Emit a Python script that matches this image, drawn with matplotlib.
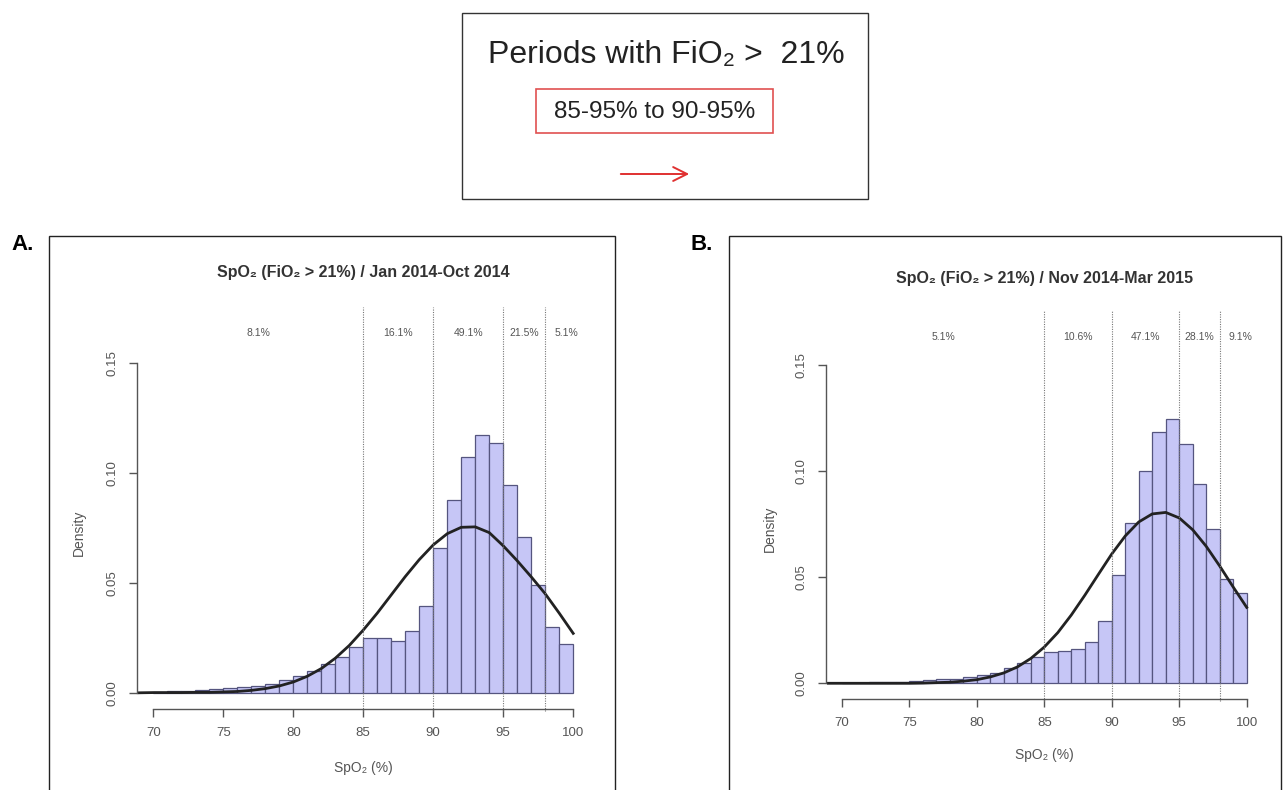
import matplotlib
matplotlib.use("Agg")
import matplotlib.pyplot as plt
import matplotlib.transforms as mtransforms
from matplotlib.patches import Rectangle, FancyArrowPatch

plt.rcParams['font.family'] = ['Liberation Sans', 'DejaVu Sans']

# histogram bins: left edges, width 1
bin_left = list(range(70, 100))

# panel A: Jan 2014 - Oct 2014
dens_a = [0.0005, 0.0007, 0.0009, 0.0011, 0.0015, 0.0020, 0.0026, 0.0031, 0.0040, 0.0058,
          0.0075, 0.0098, 0.0130, 0.0163, 0.0207, 0.0250, 0.0250, 0.0236, 0.0279, 0.0395,
          0.0656, 0.0877, 0.1070, 0.1171, 0.1134, 0.0946, 0.0709, 0.0490, 0.0300, 0.0224]
# panel B: Nov 2014 - Mar 2015
dens_b = [0.0001, 0.0002, 0.0004, 0.0006, 0.0008, 0.0011, 0.0014, 0.0018, 0.0022, 0.0028,
          0.0037, 0.0048, 0.0071, 0.0097, 0.0122, 0.0149, 0.0151, 0.0161, 0.0195, 0.0293,
          0.0513, 0.0755, 0.1003, 0.1184, 0.1245, 0.1130, 0.0940, 0.0728, 0.0492, 0.0425]

# fitted density curves read at integer SpO2 values (69..100)
curve_x = list(range(69, 101))
curve_a = [0.0000, 0.0001, 0.0001, 0.0001, 0.0002, 0.0002, 0.0004, 0.0006, 0.0011, 0.0019,
           0.0031, 0.0049, 0.0075, 0.0110, 0.0157, 0.0215, 0.0285, 0.0362, 0.0445, 0.0528,
           0.0605, 0.0672, 0.0723, 0.0752, 0.0754, 0.0728, 0.0668, 0.0600, 0.0527, 0.0450,
           0.0362, 0.0270]
curve_b = [0.0000, 0.0000, 0.0000, 0.0000, 0.0000, 0.0000, 0.0000, 0.0001, 0.0003, 0.0005,
           0.0010, 0.0017, 0.0030, 0.0049, 0.0077, 0.0117, 0.0171, 0.0239, 0.0322, 0.0415,
           0.0513, 0.0610, 0.0695, 0.0761, 0.0799, 0.0806, 0.0780, 0.0724, 0.0646, 0.0553,
           0.0454, 0.0358]

cut_points = [85, 90, 95, 98]
label_pos = [77.5, 87.5, 92.5, 96.5, 99.5]
pct_a = ['8.1%', '16.1%', '49.1%', '21.5%', '5.1%']
pct_b = ['5.1%', '10.6%', '47.1%', '28.1%', '9.1%']

title_a = 'SpO\u2082 (FiO\u2082 > 21%) / Jan 2014-Oct 2014'
title_b = 'SpO\u2082 (FiO\u2082 > 21%) / Nov 2014-Mar 2015'

W, H = 1283, 790
fig = plt.figure(figsize=(W / 100, H / 100), dpi=100)


def px_rect(x0, y0, x1, y1, **kw):
    # rectangle given in pixel coords (origin top-left)
    r = Rectangle((x0 / W, 1 - y1 / H), (x1 - x0) / W, (y1 - y0) / H,
                  transform=fig.transFigure, fill=False, clip_on=False, **kw)
    fig.add_artist(r)


# header box
px_rect(462, 13, 868, 199, lw=1.0, edgecolor='#333333')
fig.text(666 / W, 1 - 55 / H, 'Periods with FiO\u2082 >  21%', ha='center', va='center',
         fontsize=23, color='#222222')
px_rect(536, 89, 773, 133, lw=1.2, edgecolor='#e05050')
fig.text(655 / W, 1 - 112 / H, '85-95% to 90-95%', ha='center', va='center',
         fontsize=17.5, color='#222222')
arr = FancyArrowPatch((618 / W, 1 - 174 / H), (692 / W, 1 - 174 / H),
                      transform=fig.transFigure, arrowstyle='->,head_length=10,head_width=5',
                      color='#e03030', lw=1.4, mutation_scale=1)
fig.add_artist(arr)

# panel frames
px_rect(49, 236, 615, 800, lw=1.0, edgecolor='#222222')
px_rect(729, 236, 1281, 800, lw=1.0, edgecolor='#222222')
fig.text(11 / W, 1 - 245 / H, 'A.', ha='left', va='center', fontsize=16, fontweight='bold')
fig.text(691 / W, 1 - 245 / H, 'B.', ha='left', va='center', fontsize=16, fontweight='bold')

panels = [
    (dens_a, curve_a, pct_a, title_a, (136.5, 349.5, 590, 706), 79, 768),
    (dens_b, curve_b, pct_b, title_b, (825.7, 352.6, 1262.9, 696), 770, 755),
]

for dens, curve, pcts, title, (l, t, r, b), ylab_x, xlab_y in panels:
    ax = fig.add_axes([l / W, 1 - b / H, (r - l) / W, (b - t) / H])
    ax.bar(bin_left, dens, width=1, align='edge', color='#c6c6f6',
           edgecolor='#55557f', linewidth=0.9)
    ax.plot(curve_x, curve, color='#222222', lw=2.0)
    ax.set_xlim(68.8, 101.2)
    ax.set_ylim(-0.006, 0.156)
    for s in ['top', 'right']:
        ax.spines[s].set_visible(False)
    ax.spines['left'].set_bounds(0, 0.15)
    ax.spines['bottom'].set_bounds(70, 100)
    ax.spines['bottom'].set_position(('outward', 2))
    for s in ['left', 'bottom']:
        ax.spines[s].set_color('#555555')
        ax.spines[s].set_linewidth(1.0)
    ax.set_xticks([70, 75, 80, 85, 90, 95, 100])
    ax.set_yticks([0.00, 0.05, 0.10, 0.15])
    ax.set_yticklabels(['0.00', '0.05', '0.10', '0.15'], rotation=90, va='center')
    ax.tick_params(axis='both', direction='out', length=6, width=1.0, color='#555555',
                   labelcolor='#555555', labelsize=9.5, pad=7)
    trans = mtransforms.blended_transform_factory(ax.transData, ax.transAxes)
    for c in cut_points:
        ax.plot([c, c], [-0.015, 1.12], transform=trans, color='#777777', lw=0.8,
                ls=(0, (1, 1.2)), clip_on=False)
    for xp, txt in zip(label_pos, pcts):
        ax.text(xp, 1.045, txt, transform=trans, ha='center', va='center',
                fontsize=7.5, color='#555555')
    ax.text(85, 1.215, title, transform=trans, ha='center', va='center',
            fontsize=11.5, fontweight='bold', color='#333333')
    fig.text(ylab_x / W, 1 - ((t + b) / 2 + 5) / H, 'Density', rotation=90,
             ha='center', va='center', fontsize=10, color='#555555')
    fig.text(((l + r) / 2) / W, 1 - xlab_y / H, 'SpO\u2082 (%)', ha='center', va='center',
             fontsize=10, color='#555555')

fig.savefig('out.png', dpi=100)
